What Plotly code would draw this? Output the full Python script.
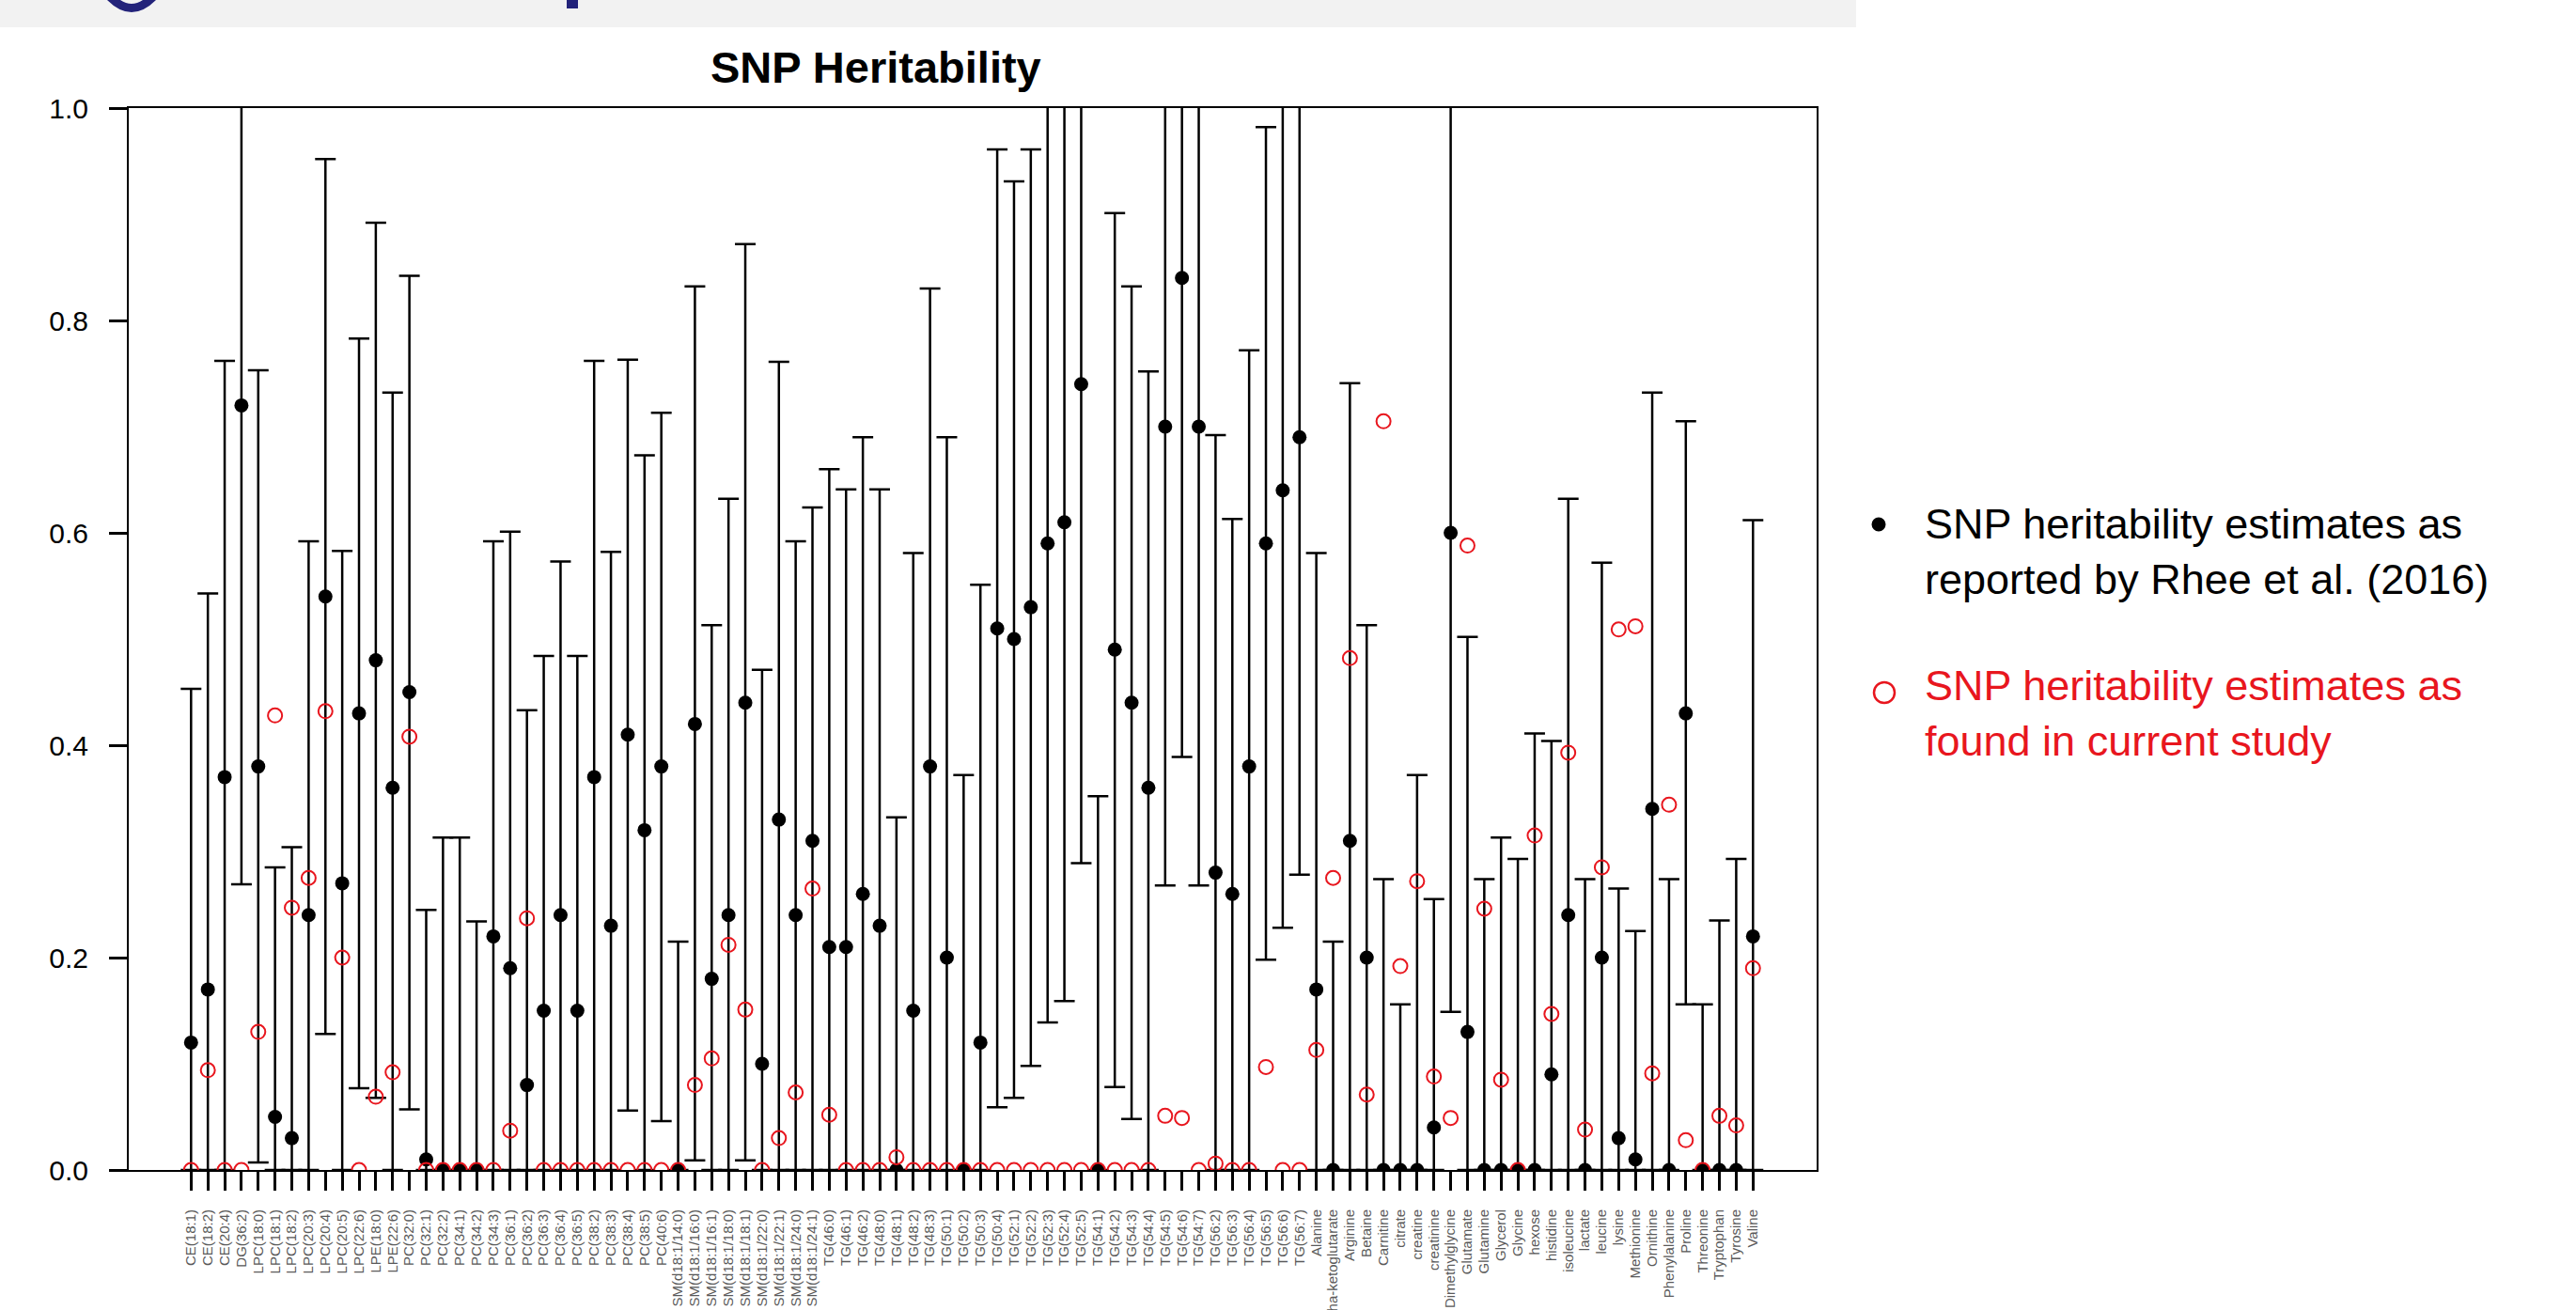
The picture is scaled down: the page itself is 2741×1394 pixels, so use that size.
import plotly.graph_objects as go

categories = [
    "CE(18:1)", "CE(18:2)", "CE(20:4)", "DG(36:2)", "LPC(18:0)", "LPC(18:1)", "LPC(18:2)",
    "LPC(20:3)", "LPC(20:4)", "LPC(20:5)", "LPC(22:6)", "LPE(18:0)", "LPE(22:6)",
    "PC(32:0)", "PC(32:1)", "PC(32:2)", "PC(34:1)", "PC(34:2)", "PC(34:3)", "PC(36:1)",
    "PC(36:2)", "PC(36:3)", "PC(36:4)", "PC(36:5)", "PC(38:2)", "PC(38:3)", "PC(38:4)",
    "PC(38:5)", "PC(40:6)", "SM(d18:1/14:0)", "SM(d18:1/16:0)", "SM(d18:1/16:1)",
    "SM(d18:1/18:0)", "SM(d18:1/18:1)", "SM(d18:1/22:0)", "SM(d18:1/22:1)",
    "SM(d18:1/24:0)", "SM(d18:1/24:1)", "TG(46:0)", "TG(46:1)", "TG(46:2)", "TG(48:0)",
    "TG(48:1)", "TG(48:2)", "TG(48:3)", "TG(50:1)", "TG(50:2)", "TG(50:3)", "TG(50:4)",
    "TG(52:1)", "TG(52:2)", "TG(52:3)", "TG(52:4)", "TG(52:5)", "TG(54:1)", "TG(54:2)",
    "TG(54:3)", "TG(54:4)", "TG(54:5)", "TG(54:6)", "TG(54:7)", "TG(56:2)", "TG(56:3)",
    "TG(56:4)", "TG(56:5)", "TG(56:6)", "TG(56:7)", "Alanine", "alpha-ketoglutarate",
    "Arginine", "Betaine", "Carnitine", "citrate", "creatine", "creatinine",
    "Dimethylglycine", "Glutamate", "Glutamine", "Glycerol", "Glycine", "hexose",
    "histidine", "isoleucine", "lactate", "leucine", "lysine", "Methionine", "Ornithine",
    "Phenylalanine", "Proline", "Threonine", "Tryptophan", "Tyrosine", "Valine",
]

# SNP heritability reported by Rhee et al. (2016)
rhee = [
    0.12, 0.17, 0.37, 0.72, 0.38, 0.05, 0.03, 0.24, 0.54, 0.27, 0.43, 0.48, 0.36,
    0.45, 0.01, 0.0, 0.0, 0.0, 0.22, 0.19, 0.08, 0.15, 0.24, 0.15, 0.37, 0.23, 0.41,
    0.32, 0.38, 0.0, 0.42, 0.18, 0.24, 0.44, 0.10, 0.33, 0.24, 0.31, 0.21, 0.21, 0.26,
    0.23, 0.0, 0.15, 0.38, 0.20, 0.0, 0.12, 0.51, 0.50, 0.53, 0.59, 0.61, 0.74, 0.0,
    0.49, 0.44, 0.36, 0.70, 0.84, 0.70, 0.28, 0.26, 0.38, 0.59, 0.64, 0.69, 0.17, 0.0,
    0.31, 0.20, 0.0, 0.0, 0.0, 0.04, 0.60, 0.13, 0.0, 0.0, 0.0, 0.0, 0.09, 0.24, 0.0,
    0.20, 0.03, 0.01, 0.34, 0.0, 0.43, 0.0, 0.0, 0.0, 0.22,
]

# lower / upper confidence limits
lower = [
    0.0, 0.0, 0.0, 0.269, 0.007, 0.0, 0.0, 0.0, 0.128, 0.0, 0.077, 0.068, 0.0,
    0.057, 0.0, 0.0, 0.0, 0.0, 0.0, 0.0, 0.0, 0.0, 0.0, 0.0, 0.0, 0.0, 0.056,
    0.0, 0.046, 0.0, 0.009, 0.0, 0.0, 0.009, 0.0, 0.0, 0.0, 0.0, 0.0, 0.0, 0.0,
    0.0, 0.0, 0.0, 0.0, 0.0, 0.0, 0.0, 0.059, 0.068, 0.098, 0.139, 0.159, 0.289, 0.0,
    0.078, 0.048, 0.0, 0.268, 0.389, 0.268, 0.0, 0.0, 0.0, 0.198, 0.228, 0.278, 0.0, 0.0,
    0.0, 0.0, 0.0, 0.0, 0.0, 0.0, 0.149, 0.0, 0.0, 0.0, 0.0, 0.0, 0.0, 0.0, 0.0,
    0.0, 0.0, 0.0, 0.0, 0.0, 0.156, 0.0, 0.0, 0.0, 0.0,
]

upper = [
    0.453, 0.543, 0.762, 1.2, 0.753, 0.285, 0.304, 0.592, 0.952, 0.583, 0.783, 0.892, 0.732,
    0.842, 0.245, 0.313, 0.313, 0.234, 0.592, 0.601, 0.433, 0.484, 0.573, 0.484, 0.762, 0.582, 0.763,
    0.673, 0.713, 0.215, 0.832, 0.513, 0.632, 0.872, 0.471, 0.761, 0.592, 0.624, 0.660, 0.641, 0.690,
    0.641, 0.332, 0.581, 0.830, 0.690, 0.372, 0.551, 0.961, 0.931, 0.961, 1.2, 1.2, 1.2, 0.352,
    0.901, 0.832, 0.752, 1.2, 1.2, 1.2, 0.692, 0.613, 0.772, 0.982, 1.2, 1.2, 0.581, 0.215,
    0.741, 0.513, 0.274, 0.156, 0.372, 0.255, 1.2, 0.502, 0.274, 0.313, 0.293, 0.411, 0.404, 0.632, 0.274,
    0.572, 0.265, 0.225, 0.732, 0.274, 0.705, 0.156, 0.235, 0.293, 0.612,
]

# SNP heritability found in current study
current = [
    0.0, 0.094, 0.0, 0.0, 0.13, 0.428, 0.247, 0.275, 0.432, 0.20, 0.0, 0.069, 0.092,
    0.408, 0.0, 0.0, 0.0, 0.0, 0.0, 0.037, 0.237, 0.0, 0.0, 0.0, 0.0, 0.0, 0.0,
    0.0, 0.0, 0.0, 0.08, 0.105, 0.212, 0.151, 0.0, 0.030, 0.073, 0.265, 0.052, 0.0, 0.0,
    0.0, 0.012, 0.0, 0.0, 0.0, 0.0, 0.0, 0.0, 0.0, 0.0, 0.0, 0.0, 0.0, 0.0,
    0.0, 0.0, 0.0, 0.051, 0.049, 0.0, 0.006, 0.0, 0.0, 0.097, 0.0, 0.0, 0.113, 0.275,
    0.482, 0.071, 0.705, 0.192, 0.272, 0.088, 0.049, 0.588, 0.246, 0.085, 0.0, 0.315, 0.147, 0.393, 0.038,
    0.285, 0.509, 0.512, 0.091, 0.344, 0.028, 0.0, 0.051, 0.042, 0.19,
]

y_ticks = [0.0, 0.2, 0.4, 0.6, 0.8, 1.0]
y_ticktext = ["0.0", "0.2", "0.4", "0.6", "0.8", "1.0"]

title_text = "SNP Heritability"
legend_black = "SNP heritability estimates as<br>reported by Rhee et al. (2016)"
legend_red = "SNP heritability estimates as<br>found in current study"

# ---- layout geometry (pixels) ----
W, H = 2741, 1394
L, R, T, B = 137, 1933, 115, 1245
PW, PH = R - L, B - T


def px(xp):
    return (xp - L) / PW


def py(yp):
    return (B - yp) / PH


RED = "#E8161E"
FONT = "Liberation Sans, Arial, sans-serif"

xpos = list(range(len(categories)))
err_plus = [u - d for u, d in zip(upper, rhee)]
err_minus = [d - lo for d, lo in zip(rhee, lower)]

fig = go.Figure()
fig.add_trace(go.Scatter(
    x=xpos, y=rhee, mode="markers",
    marker=dict(symbol="circle", size=15, color="black"),
    error_y=dict(type="data", symmetric=False, array=err_plus, arrayminus=err_minus,
                 color="black", thickness=2.5, width=11),
    cliponaxis=True, showlegend=False, hoverinfo="skip",
))
fig.add_trace(go.Scatter(
    x=xpos, y=current, mode="markers",
    marker=dict(symbol="circle-open", size=15, color=RED, line=dict(width=2, color=RED)),
    cliponaxis=True, showlegend=False, hoverinfo="skip",
))

shapes = []
# grey banner at top of page
shapes.append(dict(type="rect", xref="paper", yref="paper",
                   x0=px(0), x1=px(1975), y0=py(29), y1=py(0),
                   fillcolor="#F2F2F2", line=dict(width=0), layer="below"))
# fragments of cut-off heading (descenders)
g_path = "M {} {} Q {} {} {} {} L {} {} Q {} {} {} {} Z".format(
    px(114), py(0), px(140), py(26), px(166), py(0),
    px(152), py(0), px(140), py(8), px(128), py(0))
shapes.append(dict(type="path", xref="paper", yref="paper", path=g_path,
                   fillcolor="#23237A", line=dict(width=0)))
shapes.append(dict(type="rect", xref="paper", yref="paper",
                   x0=px(603), x1=px(615), y0=py(9), y1=py(0),
                   fillcolor="#23237A", line=dict(width=0)))
# legend symbols
shapes.append(dict(type="circle", xref="paper", yref="paper",
                   x0=px(1991.5), x1=px(2006.5), y0=py(565.5), y1=py(550.5),
                   fillcolor="black", line=dict(width=0)))
shapes.append(dict(type="circle", xref="paper", yref="paper",
                   x0=px(1994), x1=px(2016), y0=py(748), y1=py(726),
                   fillcolor="rgba(0,0,0,0)", line=dict(width=2.5, color=RED)))

annotations = [
    dict(text="<b>" + title_text + "</b>", xref="paper", yref="paper",
         x=px(932), y=py(100), xanchor="center", yanchor="bottom", showarrow=False,
         font=dict(family=FONT, size=47, color="black")),
    dict(text=legend_black, xref="paper", yref="paper",
         x=px(2046), y=py(530), xanchor="left", yanchor="top", align="left",
         showarrow=False, font=dict(family=FONT, size=45, color="black")),
    dict(text=legend_red, xref="paper", yref="paper",
         x=px(2046), y=py(702), xanchor="left", yanchor="top", align="left",
         showarrow=False, font=dict(family=FONT, size=45, color=RED)),
]

fig.update_layout(
    template="none",
    width=W, height=H, autosize=False,
    margin=dict(l=L, r=W - R, t=T, b=H - B, pad=0),
    paper_bgcolor="white", plot_bgcolor="white",
    shapes=shapes, annotations=annotations,
    xaxis=dict(range=[-3.71, 96.79], tickmode="array", tickvals=xpos, ticktext=categories,
               tickangle=-90, ticks="outside", ticklen=20, tickwidth=2.5, tickcolor="black",
               showgrid=False, zeroline=False, showline=True, linecolor="black",
               linewidth=2, mirror=True, ticklabelstandoff=14, automargin=False,
               tickfont=dict(family=FONT, size=15, color="#5A5A5A")),
    yaxis=dict(range=[0, 1], tickmode="array", tickvals=y_ticks, ticktext=y_ticktext,
               ticks="outside", ticklen=19, tickwidth=2.5, tickcolor="black",
               showgrid=False, zeroline=False, showline=True, linecolor="black",
               linewidth=2, mirror=True, ticklabelstandoff=16, automargin=False,
               tickfont=dict(family=FONT, size=30, color="black")),
)

fig.write_html("out.html", config={"displayModeBar": False})
